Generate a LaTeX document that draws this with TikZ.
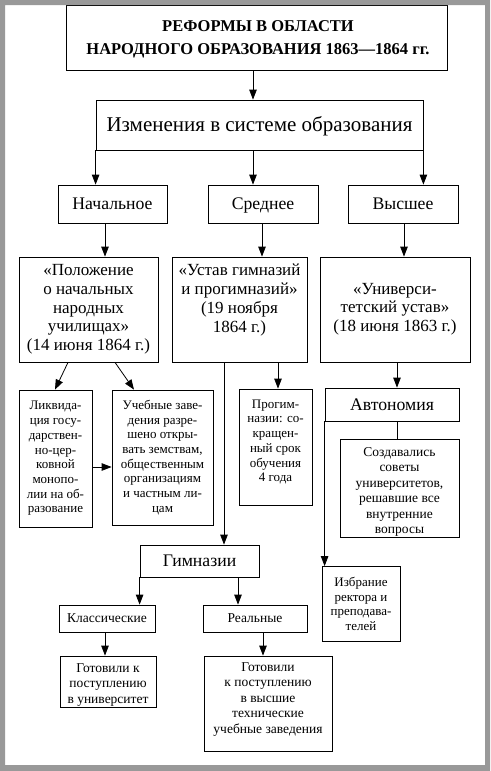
\documentclass[tikz,border=0pt]{standalone}
\usepackage{fontspec}
\setmainfont{Liberation Serif}
\usetikzlibrary{arrows.meta}
\begin{document}
\begin{tikzpicture}[x=1pt,y=-1pt,
  box/.style={draw,line width=0.8pt,inner sep=0pt,align=center},
  oneline/.style={text height=#1,text depth=0pt},
  txt/.style={inner sep=0pt,align=center},
  arr/.style={line width=0.8pt,-{Triangle[length=10pt,width=7.5pt]}},
  ln/.style={line width=0.8pt},
  ftitle/.style={font=\bfseries\fontsize{16.5}{23}\selectfont},
  fbig/.style={font=\fontsize{21}{24}\selectfont,oneline=13pt},
  flev/.style={font=\fontsize{17.7}{20}\selectfont,oneline=11pt},
  fmid/.style={font=\fontsize{17}{18.7}\selectfont},
  fsm/.style={font=\fontsize{13}{14.7}\selectfont},
  fsb/.style={font=\fontsize{13.5}{15.5}\selectfont},
  fsl/.style={font=\fontsize{13.5}{15.5}\selectfont,oneline=8.5pt}]
\useasboundingbox (0,0) rectangle (490,771);
\fill[white] (0,0) rectangle (490,771);

% boxes
\node[box,minimum width=381pt,minimum height=65pt] (title) at (256.5,37.5) {};
\node[txt,ftitle] (titleT) at (258,39.5)
  {РЕФОРМЫ В ОБЛАСТИ\\НАРОДНОГО ОБРАЗОВАНИЯ 1863—1864 гг.};
\node[box,fbig,minimum width=327pt,minimum height=50pt] (izm) at (259.5,125)
  {Изменения в системе образования};
\node[box,flev,minimum width=109pt,minimum height=38pt] (nach) at (112.5,204) {Начальное};
\node[box,flev,minimum width=110pt,minimum height=38pt] (sred) at (263,204) {Среднее};
\node[box,flev,minimum width=110pt,minimum height=38pt] (vys) at (403,204) {Высшее};

\node[box,fmid,minimum width=139pt,minimum height=105pt] (pol) at (88.5,309.5)
  {«Положение\\о начальных\\народных\\училищах»\\(14 июня 1864 г.)};
\node[box,minimum width=135pt,minimum height=105pt] (ustav) at (239.5,309.5) {};
\node[txt,fmid] (ustavT) at (239.5,300)
  {«Устав гимназий\\и прогимназий»\\(19 ноября\\1864 г.)};
\node[box,minimum width=150pt,minimum height=105pt] (univ) at (395,309.5) {};
\node[txt,fmid] (univT) at (395,309)
  {«Универси-\\тетский устав»\\(18 июня 1863 г.)};

\node[box,fsm,minimum width=73pt,minimum height=137pt] (likv) at (55.5,458.5)
  {Ликвида-\\ция госу-\\дарствен-\\но-цер-\\ковной\\монопо-\\лии на об-\\разование};
\node[box,fsm,minimum width=101pt,minimum height=135pt] (ucheb) at (162.5,457.5)
  {Учебные заве-\\дения разре-\\шено откры-\\вать земствам,\\общественным\\организациям\\и частным ли-\\цам};
\node[box,minimum width=73pt,minimum height=116pt] (progim) at (275.5,447) {};
\node[txt,fsm] (progimT) at (275.5,442)
  {Прогим-\\назии: со-\\кращен-\\ный срок\\обучения\\4 года};
\node[box,flev,minimum width=134pt,minimum height=33pt] (avt) at (392,404.5) {Автономия};
\node[box,minimum width=119pt,minimum height=98pt] (sozd) at (399.5,488) {};
\node[txt,fsb] (sozdT) at (399.5,492)
  {Создавались\\советы\\университетов,\\решавшие все\\внутренние\\вопросы};

\node[box,flev,minimum width=119pt,minimum height=32pt] (gimn) at (199.5,561) {Гимназии};
\node[box,fsm,minimum width=78pt,minimum height=75pt] (izbr) at (361,604)
  {Избрание\\ректора и\\преподава-\\телей};
\node[box,fsl,minimum width=96pt,minimum height=27pt] (klass) at (107,618.5) {Классические};
\node[box,fsl,minimum width=104pt,minimum height=27pt] (real) at (255,618.5) {Реальные};
\node[box,minimum width=96pt,minimum height=51pt] (got1) at (108,681.5) {};
\node[txt,fsb] (got1T) at (108,685)
  {Готовили к\\поступлению\\в университет};
\node[box,minimum width=128pt,minimum height=95pt] (got2) at (268,703.5) {};
\node[txt,fsb] (got2T) at (268,699.5)
  {Готовили\\к поступлению\\в высшие\\технические\\учебные заведения};

% connectors
\draw[arr] (253,0 |- title.south) -- (253,0 |- izm.north);
\draw[arr] (izm.south west) -- (izm.south west |- nach.north);
\draw[arr] (253,0 |- izm.south) -- (253,0 |- sred.north);
\draw[arr] (izm.south east) -- (izm.south east |- vys.north);
\draw[arr] (105,0 |- nach.south) -- (105,0 |- pol.north);
\draw[arr] (262,0 |- sred.south) -- (262,0 |- ustav.north);
\draw[arr] (404,0 |- vys.south) -- (404,0 |- univ.north);
\draw[arr] (68,0 |- pol.south) -- (55,0 |- likv.north);
\draw[arr] (115,0 |- pol.south) -- (134,0 |- ucheb.north);
\draw[arr] (224,0 |- ustav.south) -- (224,0 |- gimn.north);
\draw[arr] (278,0 |- ustav.south) -- (278,0 |- progim.north);
\draw[arr] (397,0 |- univ.south) -- (397,0 |- avt.north);
\draw[ln] (397,0 |- avt.south) -- (397,0 |- sozd.north);
\draw[arr] (avt.south west) -- (avt.south west |- izbr.north);
\draw[arr] (likv.east |- 0,467) -- (ucheb.west |- 0,467);
\draw[arr] (gimn.south west) -- (gimn.south west |- klass.north);
\draw[arr] (238,0 |- gimn.south) -- (238,0 |- real.north);
\draw[arr] (105,0 |- klass.south) -- (105,0 |- got1.north);
\draw[arr] (263,0 |- real.south) -- (263,0 |- got2.north);

% outer frame
\fill[black!40,even odd rule] (0,0) rectangle (490,771) (5,5) rectangle (485,765);
\end{tikzpicture}
\end{document}
